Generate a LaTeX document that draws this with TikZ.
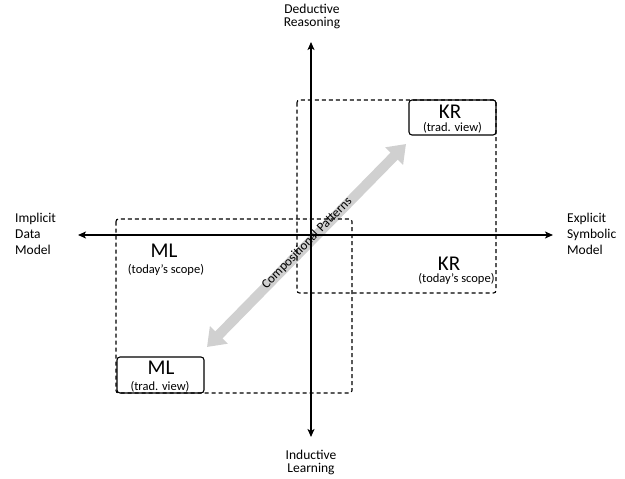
\documentclass[tikz,border=0pt]{standalone}
\usepackage{fontspec}
\setmainfont{Carlito}
\usetikzlibrary{arrows.meta}
\definecolor{cparrow}{RGB}{208,208,208}
\begin{document}
\begin{tikzpicture}[x=1pt,y=-1pt,
  axisline/.style={line width=1.6pt,
    {Stealth[length=8pt,width=7pt,inset=2pt]}-{Stealth[length=8pt,width=7pt,inset=2pt]}},
  scopebox/.style={draw, line width=1.1pt, dash pattern=on 4pt off 3pt, rounded corners=2.5pt},
  tradbox/.style={draw, line width=1.1pt, rounded corners=3pt, inner sep=0pt},
  axislabel/.style={font=\fontsize{13.5}{13}\selectfont, align=center, inner sep=0pt},
  sidelabel/.style={font=\fontsize{13.5}{16}\selectfont, align=left, inner sep=0pt},
  bigtext/.style={font=\fontsize{21}{21}\selectfont, inner sep=0pt},
  smalltext/.style={font=\fontsize{12.5}{13}\selectfont, inner sep=0pt},
  cpline/.style={line width=10pt, draw=cparrow,
    {Triangle[width=24pt,length=17pt]}-{Triangle[width=24pt,length=17pt]}}
]
\useasboundingbox (0,0) rectangle (625,479);

% compositional patterns arrow
\coordinate (cpA) at (207,347);
\coordinate (cpB) at (406,144);
\draw[cpline] (cpA) -- (cpB);

% scope rectangles
\draw[scopebox] (297,100) rectangle (496,293);
\draw[scopebox] (116,219) rectangle (352,393);

% axes
\coordinate (ytop) at (311,42);
\coordinate (ybot) at (311,437);
\coordinate (xleft) at (78,235);
\coordinate (xright) at (553,235);
\draw[axisline] (ybot) -- (ytop);
\draw[axisline] (xleft) -- (xright);

% axis labels
\node[axislabel] (ded) at (312,16.5) {Deductive\\Reasoning};
\node[axislabel] (ind) at (311,462) {Inductive\\Learning};
\node[sidelabel, anchor=west] (impl) at (15,234) {Implicit\\Data\\Model};
\node[sidelabel, anchor=west] (expl) at (567,234) {Explicit\\Symbolic\\Model};

% traditional view boxes
\node[tradbox, minimum width=87pt, minimum height=35pt] (krbox) at (452.5,117.5) {};
\node[bigtext] (krt) at (450,112) {KR};
\node[smalltext] (krtv) at (452.5,127.5) {(trad. view)};

\node[tradbox, minimum width=87pt, minimum height=36pt] (mlbox) at (160.5,375) {};
\node[bigtext] (mlt) at (161,368) {ML};
\node[smalltext] (mltv) at (160,386.5) {(trad. view)};

% today's scope labels
\node[bigtext] (krs) at (449,264) {KR};
\node[smalltext] (krsv) at (456.5,279) {(today’s scope)};
\node[bigtext] (mls) at (164,251) {ML};
\node[smalltext] (mlsv) at (166,270) {(today’s scope)};

% arrow label
\node[font=\fontsize{13}{13}\selectfont, inner sep=0pt, rotate=45.6] (cplabel) at (307,243) {Compositional Patterns};
\end{tikzpicture}
\end{document}
